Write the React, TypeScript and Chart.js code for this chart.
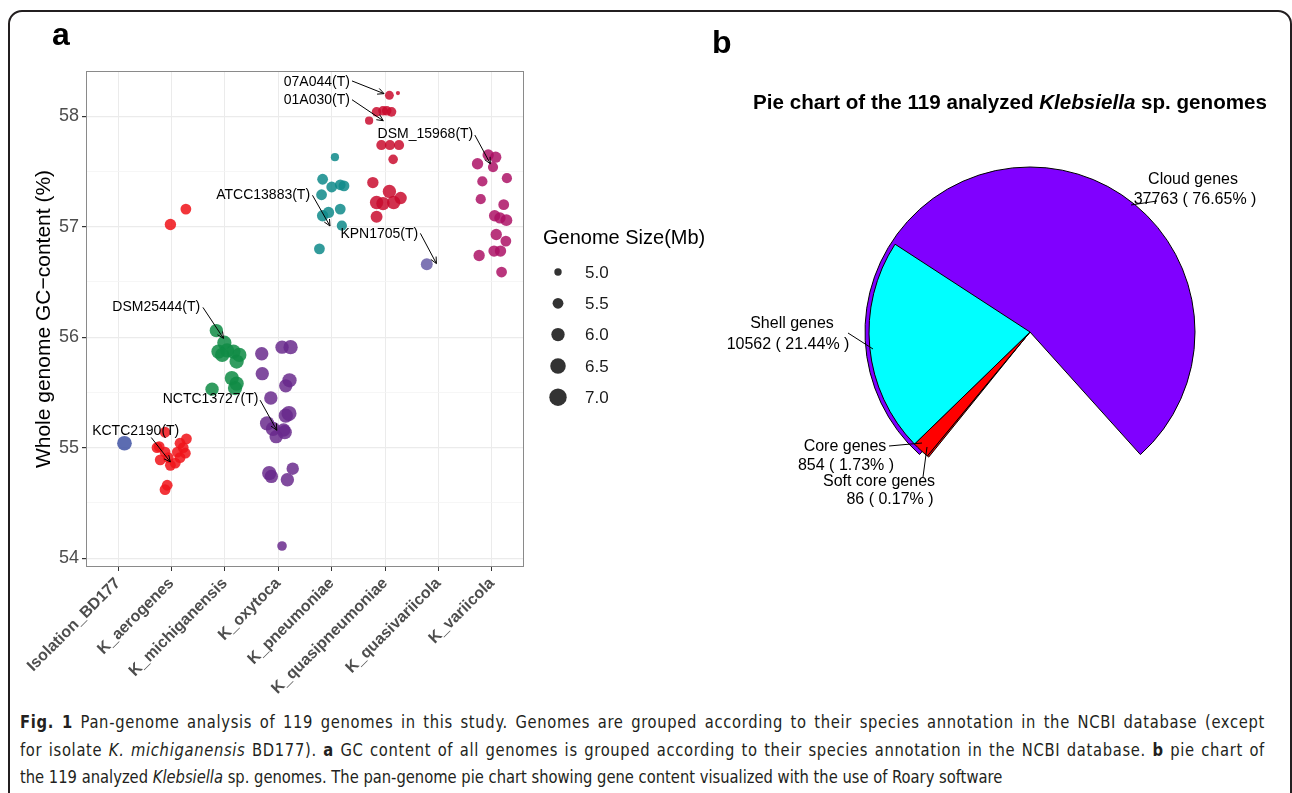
import React, { useEffect, useRef } from 'react';
import { Chart, registerables } from 'chart.js';

Chart.register(...registerables);

const FONT = "'Liberation Sans', Arial, Helvetica, sans-serif";
const CAPTION_FONT = "'Liberation Sans Narrow', 'Arial Narrow', 'DejaVu Sans Condensed', sans-serif";

// ---------------- Panel a : GC content by species ----------------
const categories = [
  'Isolation_BD177',
  'K_aerogenes',
  'K_michiganensis',
  'K_oxytoca',
  'K_pneumoniae',
  'K_quasipneumoniae',
  'K_quasivariicola',
  'K_variicola',
];

const categoryColors = [
  'rgba(70,88,166,0.88)',
  'rgba(240,20,26,0.86)',
  'rgba(16,140,70,0.86)',
  'rgba(104,40,140,0.84)',
  'rgba(16,138,138,0.86)',
  'rgba(200,10,44,0.84)',
  'rgba(112,102,172,0.9)',
  'rgba(172,16,100,0.84)',
];

// each point: [jitter offset from category position, GC content (%), genome size (Mb)]
const bd177Points = [[0.12, 55.04, 6.3]];
const aerogenesPoints = [
  [-0.02, 57.02, 5.6], [0.27, 57.16, 5.5],
  [-0.12, 55.14, 5.5], [-0.23, 55.01, 5.5], [0.28, 55.08, 5.5], [0.16, 55.04, 5.5],
  [-0.27, 55.0, 5.5], [-0.12, 54.96, 5.5], [0.11, 54.96, 5.5], [0.22, 55.0, 5.5],
  [-0.21, 54.89, 5.5], [-0.06, 54.91, 5.5], [0.16, 54.91, 5.5], [-0.02, 54.84, 5.5],
  [0.07, 54.86, 5.5], [-0.08, 54.66, 5.5], [-0.12, 54.62, 5.5], [0.26, 54.95, 5.5],
];
const michiganensisPoints = [
  [-0.16, 56.06, 6.0], [-0.01, 55.95, 6.2], [-0.12, 55.87, 6.2], [0.04, 55.88, 6.2],
  [0.16, 55.87, 6.2], [0.27, 55.84, 6.2], [0.22, 55.78, 6.2], [-0.05, 55.84, 6.2],
  [0.13, 55.63, 6.2], [0.22, 55.58, 6.2], [0.19, 55.54, 6.2], [-0.24, 55.53, 6.0],
];
const oxytocaPoints = [
  [-0.31, 55.85, 6.0], [0.07, 55.91, 6.0], [0.23, 55.91, 6.2], [-0.3, 55.67, 6.0],
  [0.21, 55.61, 6.2], [0.14, 55.56, 6.0], [-0.14, 55.45, 6.0], [0.2, 55.31, 6.4],
  [0.14, 55.29, 6.2], [-0.21, 55.22, 6.2], [-0.1, 55.17, 6.2], [0.1, 55.16, 6.0],
  [-0.04, 55.1, 6.0], [0.12, 55.14, 6.2], [-0.17, 54.77, 6.2], [-0.13, 54.74, 6.0],
  [0.27, 54.81, 5.8], [0.17, 54.71, 6.0], [0.07, 54.11, 5.3],
];
const pneumoniaePoints = [
  [0.06, 57.63, 5.1], [-0.17, 57.43, 5.5], [0.0, 57.36, 5.5], [0.16, 57.38, 5.5],
  [0.23, 57.37, 5.5], [-0.19, 57.29, 5.5], [-0.06, 57.13, 5.6], [0.16, 57.16, 5.5],
  [-0.17, 57.1, 5.6], [0.19, 57.01, 5.4], [-0.23, 56.8, 5.5],
];
const quasipneumoniaePoints = [
  [0.08, 58.19, 5.2], [0.24, 58.21, 4.7], [-0.16, 58.04, 5.3], [-0.04, 58.05, 5.3],
  [0.03, 58.05, 5.3], [0.12, 58.04, 5.3], [-0.3, 57.96, 5.1], [-0.07, 57.74, 5.4],
  [0.09, 57.74, 5.4], [0.26, 57.74, 5.4], [0.15, 57.61, 5.3], [-0.23, 57.4, 5.6],
  [0.08, 57.32, 6.0], [0.29, 57.26, 5.8], [-0.16, 57.22, 6.0], [-0.04, 57.21, 6.0],
  [0.16, 57.22, 6.0], [-0.16, 57.09, 5.7],
];
const quasivariicolaPoints = [[-0.22, 56.66, 5.7]];
const variicolaPoints = [
  [-0.07, 57.65, 5.6], [0.07, 57.63, 5.6], [-0.27, 57.57, 5.6], [0.02, 57.54, 5.4],
  [-0.18, 57.41, 5.4], [0.28, 57.44, 5.4], [-0.21, 57.25, 5.4], [0.22, 57.2, 5.5],
  [0.05, 57.1, 5.6], [0.27, 57.06, 5.7], [0.15, 57.08, 5.6], [0.08, 56.93, 5.6],
  [0.26, 56.87, 5.5], [0.04, 56.78, 5.6], [0.16, 56.78, 5.6], [-0.24, 56.74, 5.6],
  [0.18, 56.59, 5.5],
];
const groupPoints = [
  bd177Points, aerogenesPoints, michiganensisPoints, oxytocaPoints,
  pneumoniaePoints, quasipneumoniaePoints, quasivariicolaPoints, variicolaPoints,
];

const yGridValues = [54, 54.5, 55, 55.5, 56, 56.5, 57, 57.5, 58];
const sizeBreaks = [5.0, 5.5, 6.0, 6.5, 7.0];

const typeStrainNames = [
  '07A044(T)', '01A030(T)', 'DSM_15968(T)', 'ATCC13883(T)',
  'KPN1705(T)', 'DSM25444(T)', 'NCTC13727(T)', 'KCTC2190(T)',
];
// right end of each label, in data units
const typeStrainTextPos = [
  [4.34, 58.31], [4.34, 58.145], [6.65, 57.84], [3.595, 57.285],
  [5.62, 56.93], [1.538, 56.27], [2.628, 55.44], [1.146, 55.152],
];
// arrow start -> end, in data units
const typeStrainArrows = [
  [4.38, 58.32, 4.98, 58.205], [4.38, 58.15, 4.965, 57.96], [6.68, 57.83, 6.97, 57.57],
  [3.64, 57.285, 3.968, 57.007], [5.66, 56.94, 5.96, 56.667], [1.589, 56.27, 1.974, 55.99],
  [2.66, 55.43, 2.972, 55.158], [0.622, 55.092, 0.978, 54.871],
];

// ---------------- Panel b : pan-genome pie ----------------
const pieLabels = ['Soft core genes', 'Core genes', 'Shell genes', 'Cloud genes'];
const pieValues = [86, 854, 10562, 37763];
const pieColors = ['#FF0000', '#FF0000', '#00FFFF', '#8000FF'];

// label layout around pie centre (px): [line1 dx, dy, line2 dx, dy, lead from dx, dy, lead to dx, dy]
const pieLabelLayout = [
  [-151, 150, -140, 168, -103, 115, -107, 145],
  [-185, 115, -184, 134, -141, 114, -108, 111],
  [-238, -8, -242, 13, -182, 1, -157, 17],
  [163, -152, 165, -132, 101, -127, 127, -131],
];

const sizeToRadius = (s: number) => Math.sqrt(Math.max(13.7 + 31 * (s - 5), 1.6));

function drawArrow(ctx: CanvasRenderingContext2D, x0: number, y0: number, x1: number, y1: number) {
  ctx.beginPath();
  ctx.moveTo(x0, y0);
  ctx.lineTo(x1, y1);
  ctx.stroke();
  const a = Math.atan2(y1 - y0, x1 - x0);
  const L = 7;
  const w = Math.PI / 7;
  ctx.beginPath();
  ctx.moveTo(x1 - L * Math.cos(a - w), y1 - L * Math.sin(a - w));
  ctx.lineTo(x1, y1);
  ctx.lineTo(x1 - L * Math.cos(a + w), y1 - L * Math.sin(a + w));
  ctx.stroke();
}

const scatterPlugin = {
  id: 'scatterExtras',
  afterDatasetsDraw(chart: any) {
    const { ctx, scales } = chart;
    const xs = scales.x;
    const ys = scales.y;
    ctx.save();
    ctx.strokeStyle = '#000';
    ctx.lineWidth = 1;
    ctx.fillStyle = '#000';
    ctx.font = `14px ${FONT}`;
    ctx.textAlign = 'right';
    ctx.textBaseline = 'middle';
    typeStrainNames.forEach((name, i) => {
      const [tx, ty] = typeStrainTextPos[i];
      ctx.fillText(name, xs.getPixelForValue(tx), ys.getPixelForValue(ty));
      const [x0, y0, x1, y1] = typeStrainArrows[i];
      drawArrow(ctx, xs.getPixelForValue(x0), ys.getPixelForValue(y0), xs.getPixelForValue(x1), ys.getPixelForValue(y1));
    });
    ctx.restore();
  },
  afterDraw(chart: any) {
    const { ctx, chartArea } = chart;
    ctx.save();
    // panel border
    ctx.strokeStyle = '#8a8a8a';
    ctx.lineWidth = 1;
    ctx.strokeRect(chartArea.left + 0.5, chartArea.top + 0.5, chartArea.right - chartArea.left - 1, chartArea.bottom - chartArea.top - 1);
    // size legend
    const lx = chartArea.right + 19;
    ctx.fillStyle = '#000';
    ctx.font = `20px ${FONT}`;
    ctx.textAlign = 'left';
    ctx.textBaseline = 'middle';
    ctx.fillText('Genome Size(Mb)', lx, 238);
    ctx.font = `17px ${FONT}`;
    sizeBreaks.forEach((s, i) => {
      const cy = 272 + i * 31.3;
      ctx.fillStyle = '#333333';
      ctx.beginPath();
      ctx.arc(lx + 15, cy, sizeToRadius(s), 0, Math.PI * 2);
      ctx.fill();
      ctx.fillStyle = '#1a1a1a';
      ctx.fillText(s.toFixed(1), lx + 42, cy + 1);
    });
    ctx.restore();
  },
};

const pieTotal = pieValues.reduce((a, b) => a + b, 0);
const pieLabelPlugin = {
  id: 'pieLabels',
  afterDraw(chart: any) {
    const { ctx, chartArea } = chart;
    const cx = (chartArea.left + chartArea.right) / 2;
    const cy = (chartArea.top + chartArea.bottom) / 2;
    ctx.save();
    ctx.fillStyle = '#000';
    ctx.strokeStyle = '#000';
    ctx.lineWidth = 1;
    ctx.font = `16px ${FONT}`;
    ctx.textAlign = 'center';
    ctx.textBaseline = 'middle';
    pieLabels.forEach((label, i) => {
      const [a1, b1, a2, b2, f1, g1, f2, g2] = pieLabelLayout[i];
      const pct = ((pieValues[i] / pieTotal) * 100).toFixed(2);
      ctx.fillText(label, cx + a1, cy + b1);
      ctx.fillText(`${pieValues[i]} ( ${pct}% )`, cx + a2, cy + b2);
      ctx.beginPath();
      ctx.moveTo(cx + f1, cy + g1);
      ctx.lineTo(cx + f2, cy + g2);
      ctx.stroke();
    });
    ctx.restore();
  },
};

function ScatterPanel() {
  const ref = useRef<HTMLCanvasElement>(null);
  useEffect(() => {
    if (!ref.current) return;
    Chart.defaults.font.family = FONT;
    const datasets = categories.map((c, i) => ({
      label: c,
      data: groupPoints[i].map(([dx, gc, size]) => ({ x: i + dx, y: gc, size })),
      backgroundColor: categoryColors[i],
      borderWidth: 0,
      pointRadius: (ctx: any) => sizeToRadius(ctx.raw ? ctx.raw.size : 5),
      pointHoverRadius: (ctx: any) => sizeToRadius(ctx.raw ? ctx.raw.size : 5),
    }));
    const chart = new Chart(ref.current, {
      type: 'scatter',
      data: { datasets } as any,
      options: {
        responsive: false,
        animation: false,
        devicePixelRatio: 1,
        events: [],
        layout: { padding: { left: 0, top: 71, right: 196, bottom: 0 } },
        plugins: { legend: { display: false }, tooltip: { enabled: false } },
        scales: {
          x: {
            type: 'linear',
            min: -0.6,
            max: 7.6,
            afterBuildTicks: (scale: any) => {
              scale.ticks = categories.map((_, i) => ({ value: i }));
            },
            afterFit: (scale: any) => {
              scale.height = 133;
            },
            ticks: {
              autoSkip: false,
              maxRotation: 45,
              minRotation: 45,
              padding: 3,
              color: '#4D4D4D',
              font: { size: 16, weight: 'bold' },
              callback: (v: any) => categories[v] ?? '',
            },
            grid: { color: '#EBEBEB', lineWidth: 1, tickColor: '#333333', tickLength: 4, drawTicks: true },
            border: { display: false },
          },
          y: {
            type: 'linear',
            min: 53.92,
            max: 58.41,
            afterBuildTicks: (scale: any) => {
              scale.ticks = yGridValues.map((v) => ({ value: v }));
            },
            afterFit: (scale: any) => {
              scale.width = 86;
            },
            title: {
              display: true,
              text: 'Whole genome GC\u2212content (%)',
              color: '#000',
              font: { size: 21 },
              padding: { top: 32, bottom: 0 },
            },
            ticks: {
              autoSkip: false,
              padding: 3,
              color: '#4D4D4D',
              font: { size: 18 },
              callback: (v: any) => (Number(v) % 1 === 0 ? String(v) : ''),
            },
            grid: {
              color: (c: any) => (c.tick && c.tick.value % 1 === 0 ? '#EBEBEB' : '#F4F4F4'),
              lineWidth: (c: any) => (c.tick && c.tick.value % 1 === 0 ? 1.2 : 0.8),
              tickColor: (c: any) => (c.tick && c.tick.value % 1 === 0 ? '#333333' : 'rgba(0,0,0,0)'),
              tickLength: 4,
              drawTicks: true,
            },
            border: { display: false },
          },
        },
      } as any,
      plugins: [scatterPlugin],
    });
    return () => chart.destroy();
  }, []);
  return <canvas ref={ref} width={720} height={700} style={{ position: 'absolute', left: 0, top: 0, width: 720, height: 700 }} />;
}

function PiePanel() {
  const outerRef = useRef<HTMLCanvasElement>(null);
  const innerRef = useRef<HTMLCanvasElement>(null);
  useEffect(() => {
    if (!outerRef.current || !innerRef.current) return;
    const common = {
      responsive: false,
      animation: false,
      devicePixelRatio: 1,
      events: [],
      layout: { padding: { left: 140, top: 12, right: 90, bottom: 18 } },
      plugins: { legend: { display: false }, tooltip: { enabled: false } },
    };
    // outer layer: the cloud-genes slice
    const outer = new Chart(outerRef.current, {
      type: 'pie',
      data: {
        labels: pieLabels,
        datasets: [
          {
            data: pieValues,
            backgroundColor: pieColors.map((c, i) => (i === 3 ? c : 'rgba(0,0,0,0)')),
            borderColor: '#000',
            borderWidth: pieValues.map((_, i) => (i === 3 ? 1 : 0)),
            hoverOffset: 0,
          },
        ],
      },
      options: { ...common, radius: 165, rotation: 138 } as any,
    });
    // inner layer: shell, core and soft-core slices
    const inner = new Chart(innerRef.current, {
      type: 'pie',
      data: {
        labels: pieLabels,
        datasets: [
          {
            data: pieValues,
            backgroundColor: pieColors.map((c, i) => (i === 3 ? 'rgba(0,0,0,0)' : c)),
            borderColor: '#000',
            borderWidth: pieValues.map((_, i) => (i === 3 ? 0 : 1)),
            hoverOffset: 0,
          },
        ],
      },
      options: { ...common, radius: 161, rotation: 219 } as any,
      plugins: [pieLabelPlugin],
    });
    return () => {
      outer.destroy();
      inner.destroy();
    };
  }, []);
  const style: React.CSSProperties = { position: 'absolute', left: 720, top: 150, width: 570, height: 370 };
  return (
    <>
      <canvas ref={outerRef} width={570} height={370} style={style} />
      <canvas ref={innerRef} width={570} height={370} style={style} />
    </>
  );
}

const CAPTION_SCALE = 0.91;

export default function App() {
  return (
    <div
      style={{
        position: 'fixed',
        left: 0,
        top: 0,
        width: 1292,
        height: 793,
        overflow: 'hidden',
        background: '#fff',
        fontFamily: FONT,
      }}
    >
      <div
        style={{
          position: 'absolute',
          left: 8,
          top: 10,
          width: 1284,
          height: 840,
          border: '2px solid #231F20',
          borderRadius: 14,
          boxSizing: 'border-box',
        }}
      />
      <ScatterPanel />
      <PiePanel />
      <div style={{ position: 'absolute', left: 52, top: 18, fontSize: 32, lineHeight: '32px', fontWeight: 'bold' }}>a</div>
      <div style={{ position: 'absolute', left: 712, top: 26, fontSize: 32, lineHeight: '32px', fontWeight: 'bold' }}>b</div>
      <div
        style={{
          position: 'absolute',
          left: 660,
          top: 92,
          width: 700,
          textAlign: 'center',
          fontSize: 20.6,
          lineHeight: '20px',
          fontWeight: 'bold',
          whiteSpace: 'nowrap',
        }}
      >
        Pie chart of the 119 analyzed <i>Klebsiella</i> sp. genomes
      </div>
      <div
        style={{
          position: 'absolute',
          left: 20,
          top: 708,
          width: 1245 / CAPTION_SCALE,
          transform: `scaleX(${CAPTION_SCALE})`,
          transformOrigin: 'left top',
          fontFamily: CAPTION_FONT,
          fontSize: 18,
          lineHeight: '27.5px',
          color: '#231F20',
          whiteSpace: 'nowrap',
        }}
      >
        <div style={{ textAlign: 'justify', textAlignLast: 'justify', letterSpacing: '0.75px' }}>
          <b>Fig. 1</b> Pan-genome analysis of 119 genomes in this study. Genomes are grouped according to their species
          annotation in the NCBI database (except
        </div>
        <div style={{ textAlign: 'justify', textAlignLast: 'justify', letterSpacing: '0.75px' }}>
          for isolate <i>K. michiganensis</i> BD177). <b>a</b> GC content of all genomes is grouped according to their
          species annotation in the NCBI database. <b>b</b> pie chart of
        </div>
        <div>
          the 119 analyzed <i>Klebsiella</i> sp. genomes. The pan-genome pie chart showing gene content visualized with the
          use of Roary software
        </div>
      </div>
    </div>
  );
}
